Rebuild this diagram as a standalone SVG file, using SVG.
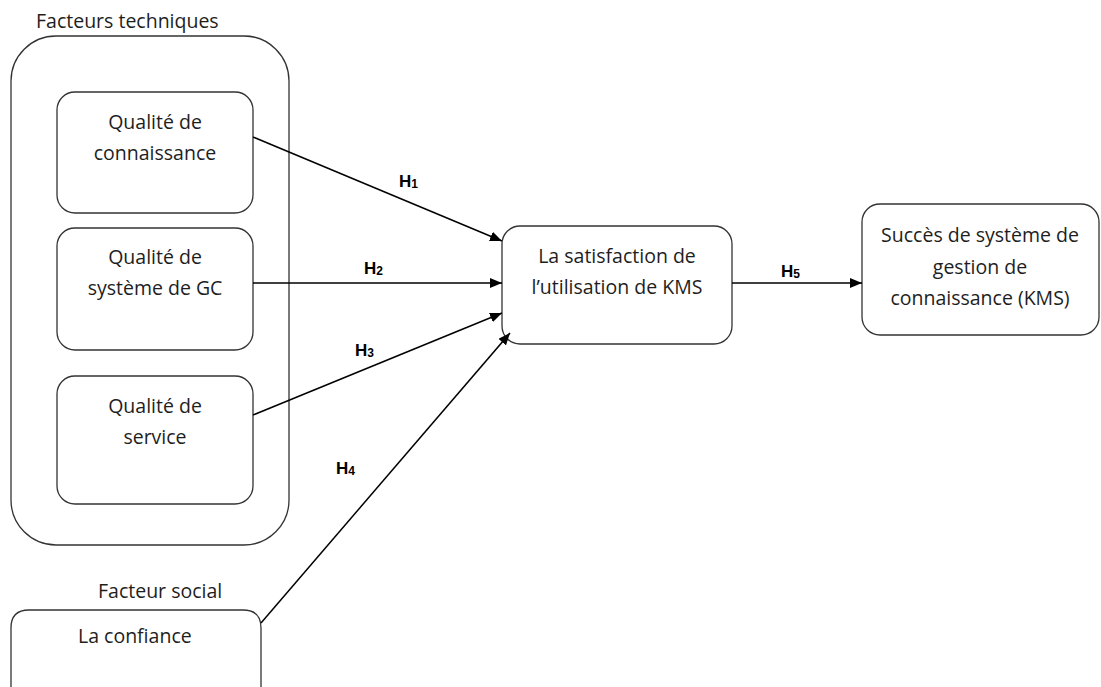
<svg xmlns="http://www.w3.org/2000/svg" width="1101" height="687" viewBox="0 0 1101 687">
<defs>
<marker id="arr" viewBox="0 0 12 10" refX="12" refY="5" markerWidth="12" markerHeight="10" markerUnits="userSpaceOnUse" orient="auto">
<path d="M0,0 L12,5 L0,10 z" fill="#000"/>
</marker>
<style>
.box{fill:#fff;stroke:#333;stroke-width:1.3}
.t{font-family:"Open Sans","Liberation Sans",sans-serif;font-size:19.5px;fill:#1e1e1e;text-anchor:middle}
.tl{font-family:"Open Sans","Liberation Sans",sans-serif;font-size:19.5px;fill:#1e1e1e}
.h{font-family:"Liberation Sans",Arial,sans-serif;font-size:17px;font-weight:bold;fill:#000}
.sub{font-size:12px}
.c{stroke:#000;stroke-width:1.5;fill:none;marker-end:url(#arr)}
</style>
</defs>
<rect width="1101" height="687" fill="#fff"/>
<g id="facteurs-techniques">
<text class="tl" x="36" y="28">Facteurs techniques</text>
<rect class="box" x="11" y="36" width="278" height="509" rx="45" ry="45"/>
</g>
<g id="qualite-connaissance">
<rect class="box" x="57" y="92" width="196" height="121" rx="18" ry="18"/>
<text class="t" x="155" y="129">Qualité de</text>
<text class="t" x="155" y="160">connaissance</text>
</g>
<g id="qualite-systeme">
<rect class="box" x="57" y="228" width="196" height="122" rx="18" ry="18"/>
<text class="t" x="155" y="264">Qualité de</text>
<text class="t" x="155" y="295">système de GC</text>
</g>
<g id="qualite-service">
<rect class="box" x="57" y="376" width="196" height="128" rx="18" ry="18"/>
<text class="t" x="155" y="413">Qualité de</text>
<text class="t" x="155" y="444">service</text>
</g>
<g id="facteur-social">
<text class="tl" x="98" y="598">Facteur social</text>
</g>
<g id="confiance">
<path class="box" d="M11,700 L11,628 Q11,610 29,610 L243,610 Q261,610 261,628 L261,700"/>
<text class="tl" x="78" y="643">La confiance</text>
</g>
<g id="satisfaction">
<rect class="box" x="502" y="226" width="230" height="118" rx="18" ry="18"/>
<text class="t" x="617" y="263">La satisfaction de</text>
<text class="t" x="617" y="294">l’utilisation de KMS</text>
</g>
<g id="succes">
<rect class="box" x="862" y="204" width="237" height="131" rx="18" ry="18"/>
<text class="t" x="980" y="242">Succès de système de</text>
<text class="t" x="980" y="274">gestion de</text>
<text class="t" x="980" y="305">connaissance (KMS)</text>
</g>
<g id="connectors">
<line class="c" x1="253" y1="137" x2="502" y2="241"/>
<line class="c" x1="253" y1="283" x2="502" y2="283"/>
<line class="c" x1="253" y1="415" x2="502" y2="313"/>
<line class="c" x1="261" y1="623" x2="510" y2="333"/>
<line class="c" x1="732" y1="283" x2="862" y2="283"/>
<text class="h" x="399" y="187">H<tspan class="sub" dy="1">1</tspan></text>
<text class="h" x="364" y="274">H<tspan class="sub" dy="1">2</tspan></text>
<text class="h" x="355" y="356">H<tspan class="sub" dy="1">3</tspan></text>
<text class="h" x="336" y="474">H<tspan class="sub" dy="1">4</tspan></text>
<text class="h" x="781" y="277">H<tspan class="sub" dy="1">5</tspan></text>
</g>
</svg>
